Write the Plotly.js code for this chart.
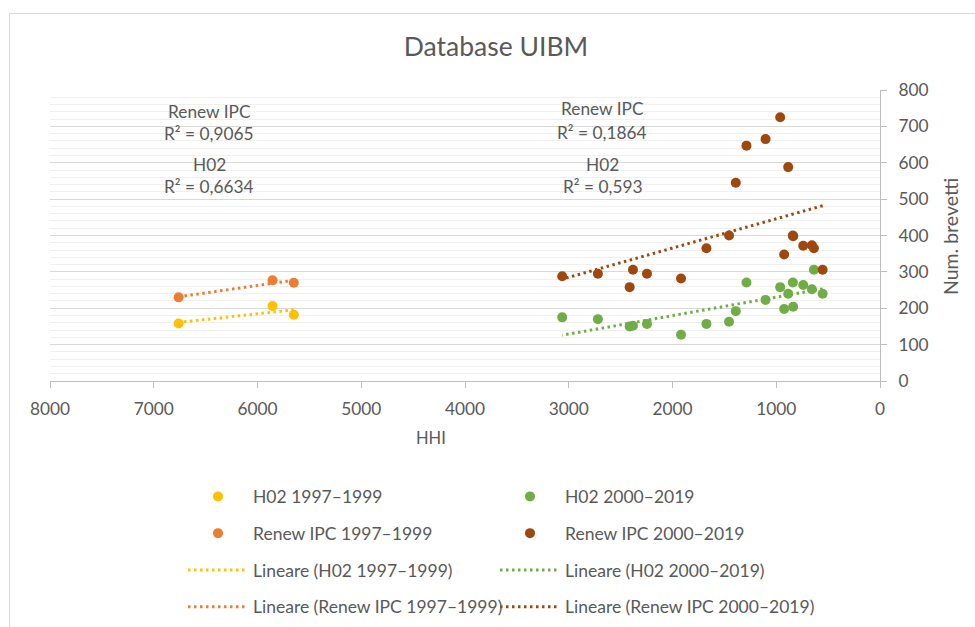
<!DOCTYPE html>
<html>
<head>
<meta charset="utf-8">
<script src="https://cdn.plot.ly/plotly-3.0.1.min.js"></script>
<style>
html,body{margin:0;padding:0;background:#fff;}
#chart{width:975px;height:627px;}
</style>
</head>
<body>
<div id="chart"></div>
<script>
// ---- Data ----
const hhi9799 = [6760, 5855, 5650];
const h02_9799 = [158, 206, 182];
const renew9799 = [230, 277, 270];

const hhi0019 = [3063, 2719, 2413, 2381, 2246, 1918, 1673, 1455, 1390, 1287, 1103, 962, 924, 885, 840, 837, 740, 656, 637, 553];
const h02_0019 = [175, 170, 150, 152, 157, 127, 157, 163, 192, 271, 223, 258, 198, 240, 271, 204, 264, 252, 306, 240];
const renew0019 = [288, 295, 258, 306, 295, 282, 365, 400, 545, 647, 665, 725, 348, 588, 400, 398, 372, 373, 365, 306];

const seriesNames = ['H02 1997–1999', 'Renew IPC 1997–1999', 'H02 2000–2019', 'Renew IPC 2000–2019'];
const xTicks = [8000, 7000, 6000, 5000, 4000, 3000, 2000, 1000, 0];
const yTicks = [0, 100, 200, 300, 400, 500, 600, 700, 800];
const r2Left = ['Renew IPC', 'R² = 0,9065', 'H02', 'R² = 0,6634'];
const r2Right = ['Renew IPC', 'R² = 0,1864', 'H02', 'R² = 0,593'];

// ---- Style ----
const colors = {h9799:'#FFC000', r9799:'#ED7D31', h0019:'#70AD47', r0019:'#9E480E'};
const FONT = 'Lato, "Open Sans", sans-serif';
const TXT = '#595959';

function linfit(xs, ys){
  const n = xs.length;
  const mx = xs.reduce((a,b)=>a+b,0)/n, my = ys.reduce((a,b)=>a+b,0)/n;
  let sxy=0, sxx=0;
  for(let i=0;i<n;i++){ sxy += (xs[i]-mx)*(ys[i]-my); sxx += (xs[i]-mx)*(xs[i]-mx); }
  const m = sxy/sxx, b = my - m*mx;
  const x0 = Math.min(...xs), x1 = Math.max(...xs);
  return {x:[x0,x1], y:[m*x0+b, m*x1+b]};
}

function trend(xs, ys, name, color, legend, rank){
  const f = linfit(xs, ys);
  return {type:'scatter', mode:'lines', x:f.x, y:f.y, name:'Lineare (' + name + ')',
    line:{color:color, width:3, dash:'2.5px,3.5px'}, legend:legend, legendgroup:legend+'g'+rank, legendrank:rank, hoverinfo:'skip'};
}
function pts(xs, ys, name, color, legend, rank){
  return {type:'scatter', mode:'markers', x:xs, y:ys, name:name,
    marker:{color:color, size:10}, legend:legend, legendgroup:legend+'g'+rank, legendrank:rank};
}

const traces = [
  pts(hhi9799, h02_9799, seriesNames[0], colors.h9799, 'legend', 1),
  pts(hhi9799, renew9799, seriesNames[1], colors.r9799, 'legend', 2),
  pts(hhi0019, h02_0019, seriesNames[2], colors.h0019, 'legend2', 1),
  pts(hhi0019, renew0019, seriesNames[3], colors.r0019, 'legend2', 2),
  trend(hhi9799, h02_9799, seriesNames[0], colors.h9799, 'legend', 3),
  trend(hhi9799, renew9799, seriesNames[1], colors.r9799, 'legend', 4),
  trend(hhi0019, h02_0019, seriesNames[2], colors.h0019, 'legend2', 3),
  trend(hhi0019, renew0019, seriesNames[3], colors.r0019, 'legend2', 4)
];
// draw trendlines underneath markers
const drawOrder = [4,5,6,7,0,1,2,3].map(i=>traces[i]);

// pixel helpers for text placement (plot area: x 50..880, y 90..381)
const L=50, R=95, T=90, B=246, W=975-L-R, H=627-T-B;
const px = v => (v-L)/W;
const py = v => (627-B-v)/H;

function textAnn(text, x, y, size){
  return {text:text, xref:'paper', yref:'paper', x:px(x), y:py(y), showarrow:false,
    xanchor:'center', yanchor:'middle', font:{family:FONT, size:size||17.3, color:TXT}};
}
const annYL = [111.5, 133.5, 164, 186];
const annYR = [108.5, 132.5, 164, 186];
const annotations = [];
r2Left.forEach((t,i)=>annotations.push(textAnn(t, 209, annYL[i])));
r2Right.forEach((t,i)=>annotations.push(textAnn(t, 602, annYR[i])));
annotations.push(textAnn('HHI', 431, 438, 16.5));
annotations.push(Object.assign(textAnn('Num. brevetti', 950, 237, 19.5), {textangle:-90}));

const legendBase = {orientation:'v', xanchor:'left', yanchor:'top', font:{family:FONT, size:17.5, color:TXT},
  itemwidth:60, tracegroupgap:11, bgcolor:'rgba(0,0,0,0)', traceorder:'grouped'};

const layout = {
  width:975, height:627,
  margin:{l:L, r:R, t:T, b:B, autoexpand:false},
  paper_bgcolor:'#ffffff', plot_bgcolor:'#ffffff',
  font:{family:FONT, color:TXT},
  title:{text:'Database UIBM', font:{family:FONT, size:26.5, color:TXT}, xref:'container', yref:'container',
    x:496/975, xanchor:'center', y:1-47/627, yanchor:'middle'},
  xaxis:{range:[8000,0], tickvals:xTicks, ticktext:xTicks.map(String), showgrid:false, zeroline:false,
    showline:true, linecolor:'#bfbfbf', linewidth:1, ticks:'outside', ticklen:6, tickcolor:'#bfbfbf',
    tickfont:{family:FONT, size:17.3, color:TXT}, ticklabelstandoff:6, fixedrange:true, automargin:false},
  yaxis:{range:[0,800], side:'right', tickvals:yTicks, ticktext:yTicks.map(String), showgrid:true, gridcolor:'#d9d9d9', gridwidth:1,
    zeroline:false, showline:true, linecolor:'#bfbfbf', linewidth:1, ticks:'outside', ticklen:6, tickcolor:'#bfbfbf',
    tickfont:{family:FONT, size:17.3, color:TXT}, ticklabelstandoff:8, automargin:false,
    minor:{dtick:20, showgrid:true, gridcolor:'#f0f0f0', gridwidth:1, ticks:''}, fixedrange:true},
  showlegend:true,
  legend:Object.assign({}, legendBase, {x:px(183), y:py(478.5)}),
  legend2:Object.assign({}, legendBase, {x:px(495), y:py(478.5)}),
  annotations:annotations,
  shapes:[{type:'rect', xref:'paper', yref:'paper', x0:px(9.5), x1:px(1000), y0:py(700), y1:py(13.5),
    line:{color:'#d9d9d9', width:1}, fillcolor:'rgba(0,0,0,0)', layer:'below'}]
};

Plotly.newPlot('chart', drawOrder, layout, {displayModeBar:false, staticPlot:true});
</script>
</body>
</html>
